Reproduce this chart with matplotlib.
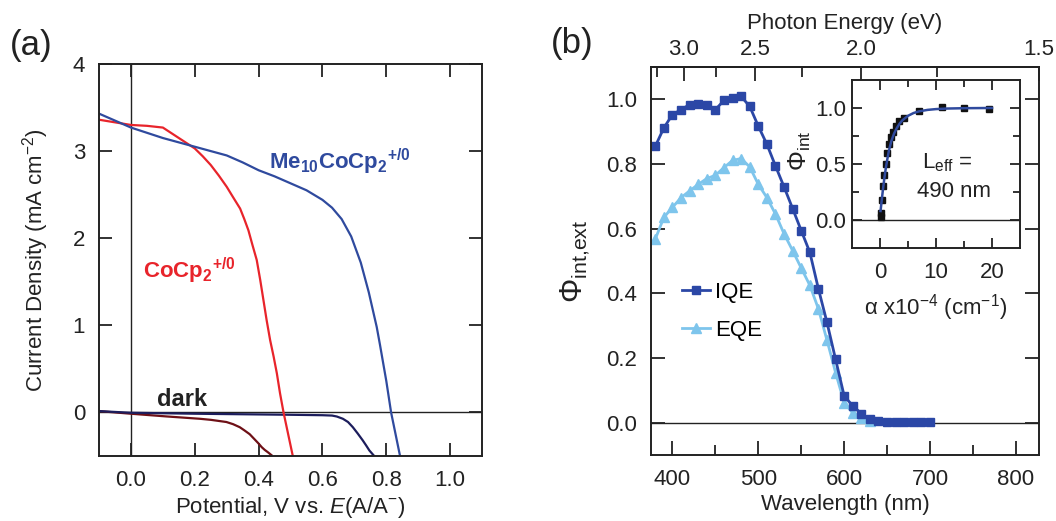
import matplotlib
matplotlib.use('Agg')
import matplotlib.pyplot as plt
from matplotlib.ticker import FixedLocator, MultipleLocator

plt.style.use('default')
plt.rcParams['font.family'] = ['Liberation Sans', 'DejaVu Sans']
plt.rcParams['mathtext.fontset'] = 'custom'
plt.rcParams['mathtext.rm'] = 'Liberation Sans'
plt.rcParams['mathtext.it'] = 'Liberation Sans:italic'
plt.rcParams['mathtext.bf'] = 'Liberation Sans:bold'

W, H = 1056, 521

# (a) J-V curves
v_me10 = [-0.1, 0.0, 0.1, 0.2, 0.3, 0.35, 0.4, 0.45, 0.5, 0.55, 0.6, 0.63, 0.66, 0.69, 0.72,
          0.745, 0.77, 0.78, 0.8, 0.815, 0.843]
j_me10 = [3.43, 3.27, 3.15, 3.05, 2.95, 2.87, 2.78, 2.71, 2.63, 2.55, 2.44, 2.35, 2.22, 2.02, 1.72,
          1.38, 0.98, 0.78, 0.36, 0.0, -0.5]

v_cocp = [-0.1, 0.0, 0.05, 0.1, 0.15, 0.175, 0.2, 0.225, 0.25, 0.275, 0.3, 0.32, 0.342, 0.355,
          0.368, 0.38, 0.394, 0.405, 0.415, 0.425, 0.436, 0.447, 0.457, 0.467, 0.478, 0.507]
j_cocp = [3.36, 3.30, 3.29, 3.27, 3.15, 3.09, 3.03, 2.94, 2.84, 2.72, 2.59, 2.47, 2.34, 2.22,
          2.09, 1.93, 1.75, 1.52, 1.29, 1.06, 0.83, 0.64, 0.45, 0.22, 0.0, -0.5]

v_dark_me10 = [-0.1, 0.0, 0.2, 0.5, 0.6, 0.63, 0.645, 0.664, 0.68, 0.695, 0.71, 0.726, 0.737, 0.747, 0.762]
j_dark_me10 = [0.015, -0.004, -0.015, -0.027, -0.032, -0.036, -0.047, -0.073, -0.11, -0.169, -0.24,
               -0.32, -0.38, -0.437, -0.5]

v_dark_cocp = [-0.1, 0.0, 0.111, 0.216, 0.25, 0.299, 0.32, 0.341, 0.355, 0.372, 0.385, 0.398, 0.41,
               0.419, 0.43, 0.44]
j_dark_cocp = [0.015, -0.015, -0.046, -0.073, -0.085, -0.11, -0.135, -0.17, -0.205, -0.25, -0.30,
               -0.35, -0.40, -0.43, -0.46, -0.49]

# (b) quantum efficiency
wl_iqe = [380, 390, 400, 410, 420, 430, 440, 450, 460, 470, 480, 490, 500, 510, 520, 530, 540,
          550, 560, 570, 580, 590, 600, 610, 620, 630, 640, 650, 660, 670, 680, 690, 700]
iqe = [0.855, 0.912, 0.953, 0.968, 0.984, 0.987, 0.982, 0.968, 0.997, 1.004, 1.009, 0.978, 0.917,
       0.861, 0.794, 0.729, 0.662, 0.594, 0.527, 0.414, 0.31, 0.196, 0.083, 0.052, 0.028, 0.011,
       0.004, 0.003, 0.003, 0.003, 0.003, 0.003, 0.003]

wl_eqe = [380, 390, 400, 410, 420, 430, 440, 450, 460, 470, 480, 490, 500, 510, 520, 530, 540,
          550, 560, 570, 580, 590, 600, 610, 620, 630]
eqe = [0.568, 0.635, 0.666, 0.696, 0.717, 0.737, 0.755, 0.765, 0.789, 0.811, 0.817, 0.791, 0.737,
       0.696, 0.645, 0.584, 0.532, 0.478, 0.425, 0.352, 0.255, 0.155, 0.062, 0.03, 0.015, 0.005]

energy_major = [3.0, 2.5, 2.0, 1.5]
energy_minor = [3.25, 2.75, 2.25, 1.75]

# inset: phi_int vs alpha
alpha_pts = [0.1, 0.2, 0.4, 0.6, 0.8, 1.0, 1.3, 1.6, 1.9, 2.3, 2.8, 3.4, 4.2, 7.0, 11.0, 15.0, 19.5]
phi_pts = [0.03, 0.06, 0.18, 0.30, 0.40, 0.50, 0.60, 0.68, 0.74, 0.79, 0.84, 0.88, 0.91, 0.97, 1.01, 1.00, 0.99]
alpha_fit = [0.1, 0.3, 0.5, 0.8, 1.0, 1.3, 1.6, 2.0, 2.5, 3.0, 3.5, 4.0, 5.0, 6.0, 7.0, 8.5, 10, 12, 15, 20]
phi_fit = [0.08, 0.17, 0.26, 0.38, 0.45, 0.54, 0.62, 0.70, 0.77, 0.82, 0.86, 0.89, 0.93, 0.955,
           0.97, 0.983, 0.99, 0.995, 0.998, 1.0]

c_me10 = '#2f4a9e'
c_cocp = '#e8242b'
c_dk_me10 = '#1c1d5c'
c_dk_cocp = '#6e1016'
c_iqe = '#2b47a6'
c_eqe = '#7ec5ec'
c_ink = '#222222'
fs = 16

fig = plt.figure(figsize=(W / 100, H / 100), dpi=100)

# ---------- panel (a)
ax1 = fig.add_axes([0.0938, 0.1248, 0.3627, 0.7524])
ax1.plot(v_dark_cocp, j_dark_cocp, color=c_dk_cocp, lw=1.6)
ax1.plot(v_dark_me10, j_dark_me10, color=c_dk_me10, lw=1.6)
ax1.plot(v_cocp, j_cocp, color=c_cocp, lw=1.6)
ax1.plot(v_me10, j_me10, color=c_me10, lw=1.6)
ax1.axhline(0, color=c_ink, lw=1.0, zorder=0)
ax1.axvline(0, color=c_ink, lw=1.0, zorder=0)
ax1.set_xlim(-0.1, 1.1)
ax1.set_ylim(-0.5, 4)
ax1.set_xticks([0.0, 0.2, 0.4, 0.6, 0.8, 1.0])
ax1.set_xticklabels(['0.0', '0.2', '0.4', '0.6', '0.8', '1.0'])
ax1.set_yticks([0, 1, 2, 3, 4])
ax1.tick_params(direction='in', bottom=True, left=True, top=True, right=True,
                length=9.5, width=1.3, color=c_ink, labelsize=fs, pad=10, labelcolor=c_ink)
ax1.set_xlabel(r'Potential, V vs. $\mathit{E}$(A/A$^{-}$)', fontsize=fs, color=c_ink)
ax1.set_ylabel(r'Current Density (mA cm$^{-2}$)', fontsize=fs, color=c_ink)
ax1.yaxis.set_label_coords(-0.125, 0.5)
ax1.xaxis.set_label_coords(0.5, -0.1)
ax1.text(0.434, 2.88, r'$\mathbf{Me_{10}CoCp_2{}^{+/0}}$', color=c_me10, fontsize=16, va='center')
ax1.text(0.039, 1.63, r'$\mathbf{CoCp_2{}^{+/0}}$', color=c_cocp, fontsize=16, va='center')
ax1.text(0.08, 0.146, 'dark', color=c_ink, fontsize=17, fontweight='bold', va='center')
for s in ax1.spines.values():
    s.set_linewidth(1.4)
    s.set_color(c_ink)
fig.text(31 / W, 1 - 45 / H, '(a)', fontsize=25, ha='center', va='center', color=c_ink)

# ---------- panel (b)
ax2 = fig.add_axes([0.6165, 0.1267, 0.3674, 0.7447])
ax2.plot(wl_eqe, eqe, color=c_eqe, lw=2, marker='^', ms=6.5, label='EQE')
ax2.plot(wl_iqe, iqe, color=c_iqe, lw=2, marker='s', ms=5.5, label='IQE')
ax2.axhline(0, color=c_ink, lw=1.0, zorder=0)
ax2.set_xlim(375, 827)
ax2.set_ylim(-0.1, 1.1)
ax2.set_xticks([400, 500, 600, 700, 800])
ax2.xaxis.set_minor_locator(MultipleLocator(50))
ax2.set_yticks([0.0, 0.2, 0.4, 0.6, 0.8, 1.0])
ax2.set_yticklabels(['0.0', '0.2', '0.4', '0.6', '0.8', '1.0'])
ax2.tick_params(which='both', direction='in', bottom=True, left=True, top=False, right=True,
                width=1.3, color=c_ink, labelsize=fs, pad=10, labelcolor=c_ink)
ax2.tick_params(which='major', length=10)
ax2.tick_params(which='minor', length=7)
ax2.set_xlabel('Wavelength (nm)', fontsize=fs, color=c_ink)
ax2.xaxis.set_label_coords(0.5, -0.1)
ax2.set_ylabel(r'$\Phi_{\mathrm{int{,}ext}}$', fontsize=22, color=c_ink)
ax2.yaxis.set_label_coords(-0.152, 0.5)
for s in ax2.spines.values():
    s.set_linewidth(1.4)
    s.set_color(c_ink)

handles, labels = ax2.get_legend_handles_labels()
ax2.legend(handles[::-1], labels[::-1], loc='center left', bbox_to_anchor=(0.08, 0.37),
           frameon=False, fontsize=fs, handlelength=1.25, handletextpad=0.25,
           labelspacing=0.75, borderpad=0, borderaxespad=0)

# photon energy axis on top
sec = ax2.secondary_xaxis('top', functions=(lambda x: 1240.0 / x, lambda x: 1240.0 / x))
sec.set_xticks(energy_major)
sec.set_xticklabels(['3.0', '2.5', '2.0', '1.5'])
sec.xaxis.set_minor_locator(FixedLocator(energy_minor))
sec.tick_params(which='both', direction='in', width=1.3, color=c_ink, labelsize=fs, pad=5,
                labelcolor=c_ink)
sec.tick_params(which='major', length=10)
sec.tick_params(which='minor', length=7)
sec.set_xlabel('Photon Energy (eV)', fontsize=fs, color=c_ink, labelpad=7)
sec.spines['top'].set_linewidth(1.4)
fig.text(572 / W, 1 - 43 / H, '(b)', fontsize=25, ha='center', va='center', color=c_ink)

# ---------- inset
ax3 = fig.add_axes([0.8068, 0.524, 0.1591, 0.3225])
ax3.plot(alpha_pts, phi_pts, ls='none', marker='s', ms=5, color='#111111')
ax3.plot(alpha_fit, phi_fit, color=c_me10, lw=1.8)
ax3.axhline(0, color=c_ink, lw=1.0, zorder=0)
ax3.set_xlim(-5, 25)
ax3.set_ylim(-0.25, 1.25)
ax3.set_xticks([0, 10, 20])
ax3.xaxis.set_minor_locator(FixedLocator([5, 15]))
ax3.set_yticks([0.0, 0.5, 1.0])
ax3.set_yticklabels(['0.0', '0.5', '1.0'])
ax3.yaxis.set_minor_locator(FixedLocator([0.25, 0.75]))
ax3.tick_params(which='both', direction='in', bottom=True, left=True, top=True, right=True,
                width=1.3, color=c_ink, labelsize=fs, pad=10, labelcolor=c_ink)
ax3.tick_params(axis='y', pad=4)
ax3.tick_params(which='major', length=7)
ax3.tick_params(which='minor', length=5)
ax3.set_xlabel(r'α x10$^{-4}$ (cm$^{-1}$)', fontsize=fs, color=c_ink)
ax3.xaxis.set_label_coords(0.5, -0.26)
ax3.set_ylabel(r'$\Phi_{\mathrm{int}}$', fontsize=18, color=c_ink)
ax3.yaxis.set_label_coords(-0.23, 0.58)
ax3.text(12.1, 0.51, r'L$_{\mathrm{eff}}$ =', fontsize=fs, ha='center', va='center', color=c_ink)
ax3.text(13.3, 0.25, '490 nm', fontsize=fs, ha='center', va='center', color=c_ink)
for s in ax3.spines.values():
    s.set_linewidth(1.4)
    s.set_color(c_ink)

fig.savefig('out.png', dpi=100)
